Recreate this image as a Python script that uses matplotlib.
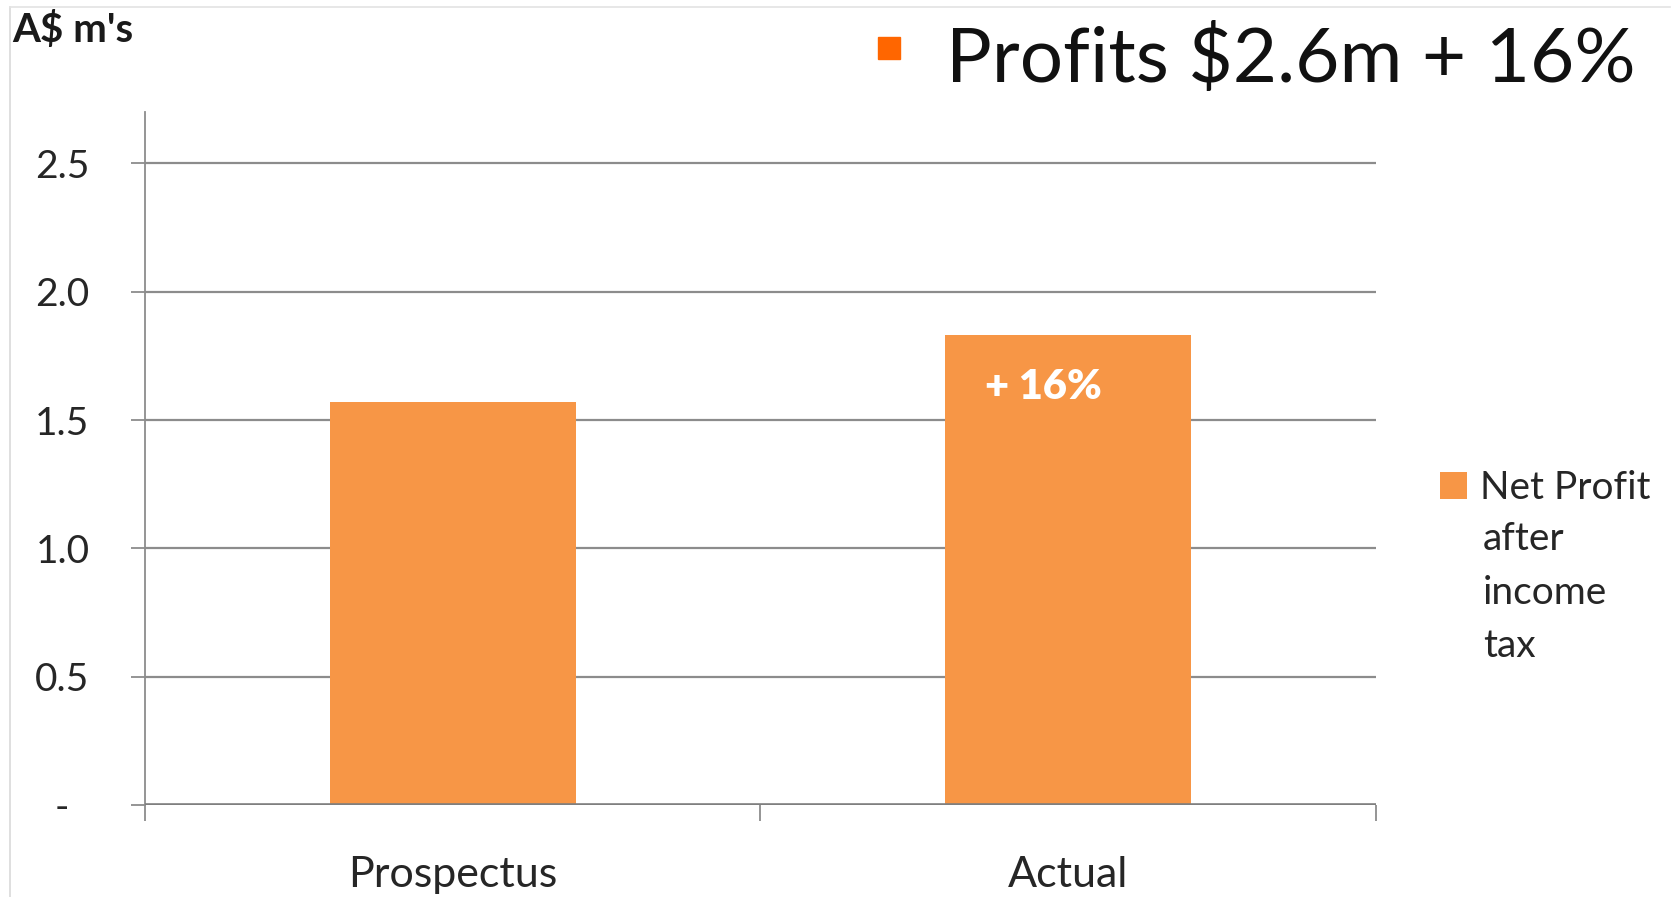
import numpy as np
import matplotlib
matplotlib.use("Agg")
from matplotlib import pyplot as plt
from matplotlib.lines import Line2D
from matplotlib.patches import Rectangle

# data
categories = ["Prospectus", "Actual"]
net_profit = [1.57, 1.83]
y_ticks = [0.0, 0.5, 1.0, 1.5, 2.0, 2.5]
y_tick_labels = ["-  ", "0.5", "1.0", "1.5", "2.0", "2.5"]
series_name = ["Net Profit", "after", "income", "tax"]
bar_note = "+ 16%"
title = "Profits $2.6m + 16%"
unit_label = "A$ m's"

BAR = "#F79646"
GRID = "#8C8C8C"
FONT = "Lato"

fig = plt.figure(figsize=(16.8, 8.97), dpi=100)
ax = fig.add_axes([0.0863, 0.1026, 0.7327, 0.7725])

x = np.arange(len(categories))
bars = ax.bar(x, net_profit, width=0.40, color=BAR, zorder=3, label=series_name[0])

ax.set_xlim(-0.5, 1.5)
ax.set_ylim(0, 2.7)

# gridlines
for v in y_ticks[1:]:
    ax.axhline(v, color=GRID, lw=1.6, zorder=1)
ax.axhline(0, color="#7F7F7F", lw=2.6, zorder=4)

ax.set_yticks(y_ticks)
ax.set_yticklabels(y_tick_labels, fontfamily=FONT, fontsize=28, color="#262626")
ax.tick_params(axis="y", length=10, width=1.3, color=GRID, pad=30)

# category ticks between bars, labels under bars
ax.set_xticks([-0.5, 0.5, 1.5])
ax.set_xticklabels([])
ax.tick_params(axis="x", length=11.5, width=1.3, color=GRID)
for xi, name in zip(x, categories):
    ax.text(xi, -0.32, name, ha="center", va="baseline", fontfamily=FONT,
            fontsize=31, color="#262626", clip_on=False)

for s in ["top", "right", "bottom"]:
    ax.spines[s].set_visible(False)
ax.spines["left"].set_color(GRID)
ax.spines["left"].set_linewidth(1.3)

# annotation inside Actual bar
ax.text(x[1] - 0.04, 1.58, bar_note, ha="center", va="baseline", color="white",
        fontfamily=FONT, fontweight="heavy", fontsize=30, zorder=5)

# legend (first line carries the swatch, rest wraps underneath)
leg = ax.legend(loc="upper left", bbox_to_anchor=(1.0236, 0.5335), frameon=False,
                prop={"family": FONT, "size": 28}, handlelength=0.7,
                handleheight=0.7, handletextpad=0.33)
for t in leg.get_texts():
    t.set_color("#262626")
# baseline of the last wrapped line
ax.text(1.0869, 0.2136, "\n".join(series_name[1:]), transform=ax.transAxes,
        fontfamily=FONT, fontsize=28, color="#262626", va="baseline", ha="left",
        linespacing=1.6)

# unit label and title
fig.text(0.007, 0.953, unit_label, fontfamily=FONT, fontweight="bold",
         fontsize=29, color="#1a1a1a", va="baseline")
fig.text(0.563, 0.909, title, fontfamily=FONT, fontsize=55, color="#111111",
         va="baseline")
fig.add_artist(Rectangle((0.5226, 0.934), 0.0131, 0.0245,
                         transform=fig.transFigure, color="#FF6600"))

# slide frame
fig.add_artist(Line2D([0.006, 0.006], [0.0, 0.992], transform=fig.transFigure,
                      color="#D9D9D9", lw=1.2))
fig.add_artist(Line2D([0.006, 0.994], [0.992, 0.992], transform=fig.transFigure,
                      color="#E3E3E3", lw=1.2))

fig.savefig("out.png", dpi=100)
